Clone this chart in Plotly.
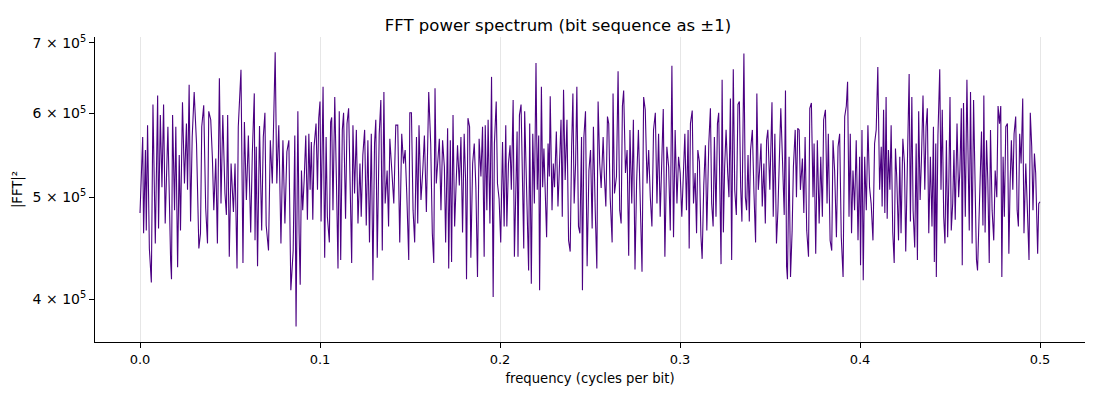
import plotly.graph_objects as go

# frequency bins (cycles per bit) and |FFT|^2 in units of 1e5
freq_a = [0.0000, 0.0009, 0.0015, 0.0020, 0.0030, 0.0035, 0.0042, 0.0052, 0.0063, 0.0072,
          0.0085, 0.0098, 0.0103, 0.0113, 0.0122, 0.0131, 0.0140, 0.0155, 0.0162, 0.0170,
          0.0175, 0.0181, 0.0192, 0.0199, 0.0209, 0.0218, 0.0225, 0.0236, 0.0247, 0.0258,
          0.0264, 0.0273, 0.0281, 0.0290, 0.0301, 0.0314, 0.0327, 0.0336, 0.0343, 0.0354,
          0.0365, 0.0375, 0.0382, 0.0393, 0.0402, 0.0410, 0.0421, 0.0430, 0.0441, 0.0450,
          0.0460, 0.0472, 0.0480, 0.0487, 0.0496, 0.0506, 0.0519, 0.0528, 0.0539, 0.0546,
          0.0561, 0.0572, 0.0580, 0.0591, 0.0602, 0.0615, 0.0624, 0.0635, 0.0639, 0.0646,
          0.0653, 0.0664, 0.0676, 0.0685, 0.0694, 0.0701, 0.0714, 0.0724, 0.0735, 0.0744,
          0.0751, 0.0760, 0.0771, 0.0783, 0.0794, 0.0805, 0.0816, 0.0827, 0.0838]
power_a = [4.83, 5.27, 5.70, 4.62, 5.54, 4.65, 5.85, 4.47, 4.15, 6.12,
           4.52, 6.24, 4.67, 5.98, 5.11, 6.12, 4.72, 5.83, 4.88, 4.36,
           4.18, 5.98, 4.86, 5.83, 4.29, 5.48, 4.65, 6.15, 5.15, 5.87,
           5.08, 6.39, 4.74, 5.70, 6.29, 5.62, 4.47, 4.62, 5.83, 6.11,
           4.88, 4.52, 6.03, 5.92, 5.46, 4.86, 5.44, 4.52, 6.48, 4.93,
           5.98, 5.04, 4.81, 5.98, 4.39, 5.38, 4.84, 5.38, 4.28, 5.83,
           6.60, 4.33, 5.89, 4.97, 5.72, 4.63, 5.50, 6.27, 4.55, 5.58,
           4.30, 5.84, 4.65, 5.70, 6.01, 4.70, 4.45, 5.66, 5.15, 6.05,
           6.86, 5.15, 5.85, 4.52, 5.66, 4.72, 5.52, 5.66, 4.08]

freq_b = [0.0851, 0.0860, 0.0867, 0.0877, 0.0884, 0.0890, 0.0897, 0.0904, 0.0912, 0.0921,
          0.0930, 0.0938, 0.0945, 0.0952, 0.0960, 0.0967, 0.0978, 0.0986, 0.0993, 0.1000,
          0.1006, 0.1017, 0.1026, 0.1034, 0.1041, 0.1052, 0.1059, 0.1065, 0.1072, 0.1082,
          0.1091, 0.1100, 0.1107, 0.1115, 0.1124, 0.1131, 0.1142, 0.1150, 0.1159, 0.1168,
          0.1176, 0.1183, 0.1192, 0.1202, 0.1211, 0.1222, 0.1229, 0.1238, 0.1248, 0.1257,
          0.1266, 0.1275, 0.1285, 0.1294, 0.1303, 0.1310, 0.1318, 0.1329, 0.1338, 0.1346,
          0.1355, 0.1362, 0.1373, 0.1381, 0.1388, 0.1399, 0.1410, 0.1421, 0.1432, 0.1443,
          0.1454, 0.1464, 0.1473, 0.1482, 0.1493, 0.1499, 0.1508, 0.1517, 0.1526, 0.1536,
          0.1543, 0.1550, 0.1561, 0.1571, 0.1580, 0.1591, 0.1598, 0.1604, 0.1615, 0.1624,
          0.1632, 0.1639, 0.1646, 0.1654, 0.1663, 0.1672, 0.1681, 0.1691, 0.1698, 0.1709,
          0.1715, 0.1724, 0.1731, 0.1739, 0.1748, 0.1757, 0.1764, 0.1774, 0.1783, 0.1792,
          0.1801, 0.1809, 0.1814, 0.1822, 0.1831, 0.1838, 0.1848, 0.1857, 0.1866, 0.1875,
          0.1884]
power_b = [4.45, 5.72, 3.77, 6.03, 4.62, 4.13, 5.30, 4.86, 5.19, 5.72,
           4.76, 5.74, 5.08, 5.64, 4.76, 5.58, 5.87, 5.08, 5.94, 6.16,
           4.74, 6.36, 4.38, 5.70, 4.79, 4.53, 5.89, 5.95, 4.86, 6.22,
           5.21, 4.28, 6.03, 4.36, 5.79, 6.01, 4.77, 5.87, 6.07, 4.83,
           4.33, 5.85, 5.04, 5.79, 4.72, 5.38, 4.79, 5.48, 5.79, 4.70,
           5.66, 4.53, 5.74, 4.17, 5.62, 5.92, 4.38, 5.74, 6.18, 4.45,
           6.29, 4.93, 5.30, 4.69, 5.68, 5.30, 4.93, 5.85, 5.85, 4.53,
           5.74, 5.38, 5.54, 5.04, 4.36, 6.01, 6.01, 4.86, 4.53, 5.70,
           4.72, 5.85, 4.97, 5.30, 5.72, 4.84, 5.64, 6.29, 5.62, 4.62,
           4.33, 6.34, 5.15, 5.46, 5.68, 4.86, 5.66, 5.34, 4.53, 5.81,
           4.28, 5.66, 4.34, 5.98, 4.69, 5.19, 5.60, 5.13, 5.70, 4.63,
           5.74, 5.17, 4.18, 5.94, 5.83, 4.38, 5.38, 5.62, 5.11, 4.20,
           5.68]

freq_c = [0.1894, 0.1903, 0.1912, 0.1918, 0.1927, 0.1934, 0.1944, 0.1953, 0.1962, 0.1969,
          0.1979, 0.1986, 0.1995, 0.2004, 0.2014, 0.2023, 0.2032, 0.2038, 0.2047, 0.2056,
          0.2063, 0.2073, 0.2080, 0.2088, 0.2095, 0.2100, 0.2108, 0.2117, 0.2124, 0.2132,
          0.2137, 0.2148, 0.2159, 0.2165, 0.2174, 0.2182, 0.2191, 0.2200, 0.2207, 0.2215,
          0.2220, 0.2230, 0.2237, 0.2244, 0.2252, 0.2259, 0.2267, 0.2274, 0.2279, 0.2289,
          0.2296, 0.2303, 0.2313, 0.2322, 0.2329, 0.2339, 0.2346, 0.2353, 0.2362, 0.2372,
          0.2381, 0.2390, 0.2398, 0.2405, 0.2412, 0.2420, 0.2427, 0.2436, 0.2444, 0.2453,
          0.2458, 0.2466, 0.2475, 0.2484, 0.2494, 0.2503, 0.2512, 0.2519, 0.2529, 0.2538,
          0.2545, 0.2554, 0.2562, 0.2573, 0.2580, 0.2588, 0.2597, 0.2604, 0.2612, 0.2623,
          0.2628, 0.2636, 0.2647, 0.2656, 0.2665, 0.2673, 0.2680, 0.2687, 0.2697, 0.2706,
          0.2715, 0.2722, 0.2732, 0.2741, 0.2750, 0.2759, 0.2769, 0.2780, 0.2789, 0.2798,
          0.2807, 0.2817, 0.2826, 0.2835, 0.2844, 0.2853, 0.2863, 0.2872, 0.2881, 0.2890,
          0.2900, 0.2907, 0.2916, 0.2927, 0.2937]
power_c = [5.23, 5.83, 4.39, 5.85, 4.86, 5.92, 4.72, 6.50, 4.02, 5.62,
           6.16, 5.15, 4.98, 4.53, 5.64, 4.69, 5.85, 4.69, 5.38, 5.60,
           5.08, 6.18, 4.39, 5.34, 5.77, 4.39, 5.98, 6.12, 5.11, 4.47,
           6.03, 5.00, 4.26, 5.87, 4.14, 5.74, 4.93, 6.70, 5.08, 5.72,
           4.08, 6.36, 5.11, 5.56, 4.93, 4.58, 5.62, 5.23, 6.23, 4.86,
           5.38, 5.11, 5.77, 4.90, 5.27, 5.92, 4.79, 6.32, 5.19, 5.92,
           4.55, 4.44, 5.58, 6.27, 4.93, 5.38, 6.36, 4.69, 4.62, 5.70,
           4.08, 5.70, 6.03, 4.30, 5.30, 5.54, 4.67, 5.83, 4.86, 4.28,
           6.16, 5.38, 5.10, 5.70, 5.23, 4.90, 5.96, 5.87, 5.00, 4.53,
           6.27, 5.04, 5.23, 6.58, 4.86, 4.72, 6.10, 6.31, 5.27, 5.54,
           4.40, 5.79, 4.93, 5.92, 4.27, 5.17, 5.79, 4.83, 4.25, 6.22,
           6.05, 5.15, 5.54, 5.00, 4.69, 5.79, 6.01, 4.93, 5.74, 4.79,
           5.58, 6.06, 4.39, 5.58, 5.34]

freq_d = [0.2946, 0.2955, 0.2964, 0.2973, 0.2983, 0.2992, 0.3001, 0.3010, 0.3020, 0.3027,
          0.3036, 0.3045, 0.3051, 0.3058, 0.3068, 0.3075, 0.3084, 0.3092, 0.3099, 0.3108,
          0.3116, 0.3123, 0.3132, 0.3141, 0.3149, 0.3160, 0.3169, 0.3176, 0.3184, 0.3191,
          0.3200, 0.3208, 0.3215, 0.3222, 0.3228, 0.3234, 0.3241, 0.3248, 0.3256, 0.3265,
          0.3272, 0.3280, 0.3287, 0.3296, 0.3304, 0.3313, 0.3322, 0.3330, 0.3337, 0.3344,
          0.3355, 0.3363, 0.3370, 0.3378, 0.3385, 0.3392, 0.3402, 0.3411, 0.3420, 0.3427,
          0.3435, 0.3442, 0.3450, 0.3457, 0.3466, 0.3474, 0.3481, 0.3488, 0.3499, 0.3511,
          0.3518, 0.3527, 0.3536, 0.3544, 0.3551, 0.3560, 0.3570, 0.3579, 0.3586, 0.3592,
          0.3597, 0.3606, 0.3614, 0.3623, 0.3630, 0.3640, 0.3647, 0.3654, 0.3662, 0.3669,
          0.3680, 0.3688, 0.3695, 0.3704, 0.3714, 0.3721, 0.3730, 0.3739, 0.3745, 0.3754,
          0.3763, 0.3773, 0.3782, 0.3791, 0.3798, 0.3808, 0.3817, 0.3824, 0.3834, 0.3843,
          0.3850, 0.3859, 0.3869, 0.3878, 0.3887, 0.3896, 0.3906, 0.3915, 0.3924, 0.3931,
          0.3939, 0.3946, 0.3953, 0.3961, 0.3970, 0.3979, 0.3989]
power_d = [4.65, 6.66, 4.58, 5.79, 4.93, 5.46, 5.27, 4.79, 5.50, 5.74,
           4.86, 5.79, 4.47, 5.87, 6.04, 4.93, 5.27, 4.62, 5.54, 5.40,
           4.60, 4.37, 5.13, 5.60, 4.65, 5.62, 6.07, 4.93, 4.69, 5.70,
           4.79, 5.87, 6.01, 5.08, 4.32, 6.46, 4.63, 5.34, 5.79, 5.27,
           5.00, 6.20, 4.36, 6.61, 5.08, 4.81, 6.12, 6.16, 5.11, 4.74,
           6.84, 5.00, 4.86, 5.48, 4.74, 5.54, 5.79, 5.04, 4.53, 6.27,
           5.08, 5.30, 5.62, 4.90, 5.38, 4.72, 5.66, 5.79, 5.08, 6.15,
           4.79, 5.74, 4.52, 4.86, 5.46, 6.07, 5.38, 4.81, 6.31, 4.30,
           4.18, 5.46, 4.20, 4.65, 5.34, 5.79, 5.00, 5.81, 5.79, 5.08,
           5.44, 4.83, 5.70, 4.65, 4.39, 6.07, 6.14, 5.00, 5.62, 4.42,
           5.66, 4.72, 5.46, 4.79, 5.92, 6.05, 4.93, 5.74, 4.55, 4.45,
           5.66, 5.30, 4.58, 5.58, 5.74, 4.58, 4.20, 5.96, 6.10, 6.43,
           4.79, 5.74, 4.62, 5.30, 4.86, 5.66, 4.55]

freq_e = [0.3998, 0.4003, 0.4011, 0.4018, 0.4026, 0.4035, 0.4044, 0.4053, 0.4062, 0.4072,
          0.4081, 0.4090, 0.4099, 0.4109, 0.4118, 0.4123, 0.4131, 0.4138, 0.4145, 0.4151,
          0.4158, 0.4166, 0.4173, 0.4182, 0.4190, 0.4197, 0.4204, 0.4214, 0.4221, 0.4228,
          0.4238, 0.4247, 0.4254, 0.4264, 0.4273, 0.4280, 0.4288, 0.4295, 0.4304, 0.4312,
          0.4319, 0.4326, 0.4334, 0.4341, 0.4350, 0.4360, 0.4367, 0.4374, 0.4382, 0.4391,
          0.4400, 0.4408, 0.4413, 0.4421, 0.4424, 0.4433, 0.4443, 0.4450, 0.4457, 0.4465,
          0.4472, 0.4480, 0.4487, 0.4494, 0.4500, 0.4507, 0.4515, 0.4522, 0.4529, 0.4539,
          0.4548, 0.4555, 0.4563, 0.4568, 0.4575, 0.4585, 0.4594, 0.4601, 0.4607, 0.4614,
          0.4623, 0.4631, 0.4640, 0.4647, 0.4653, 0.4660, 0.4668, 0.4675, 0.4683, 0.4688,
          0.4695, 0.4703, 0.4710, 0.4718, 0.4725, 0.4734, 0.4743, 0.4751, 0.4760, 0.4767,
          0.4775, 0.4782, 0.4788, 0.4795, 0.4802, 0.4810, 0.4819, 0.4827, 0.4834, 0.4841,
          0.4849, 0.4856, 0.4865, 0.4873, 0.4880, 0.4887, 0.4895, 0.4904, 0.4911, 0.4921,
          0.4930, 0.4939, 0.4946, 0.4954, 0.4961, 0.4969, 0.4976, 0.4982, 0.4987, 0.4993,
          0.5000]
power_e = [5.46, 4.31, 5.79, 4.17, 5.46, 4.86, 5.85, 5.11, 4.93, 4.55,
           5.62, 5.79, 6.64, 5.08, 5.58, 4.90, 6.05, 4.83, 6.22, 4.77,
           5.54, 5.08, 5.85, 4.63, 4.33, 5.56, 5.23, 4.55, 5.46, 4.62,
           5.68, 5.38, 4.44, 5.46, 6.54, 4.74, 6.22, 4.86, 4.48, 5.62,
           4.36, 6.03, 4.97, 5.40, 6.24, 5.08, 5.83, 6.07, 4.62, 5.46,
           4.69, 5.83, 4.34, 5.62, 4.20, 5.72, 6.61, 5.08, 6.05, 4.79,
           4.52, 5.66, 4.58, 5.23, 6.22, 4.65, 4.93, 5.54, 4.76, 5.87,
           5.00, 5.30, 6.07, 4.31, 6.14, 4.79, 6.46, 5.38, 4.65, 6.29,
           4.52, 6.18, 5.00, 4.36, 4.26, 4.79, 5.38, 5.77, 4.70, 6.24,
           4.63, 5.66, 5.19, 4.33, 5.79, 4.86, 4.55, 5.30, 5.00, 6.10,
           5.87, 6.10, 4.20, 5.46, 4.79, 5.83, 5.87, 4.42, 5.15, 5.66,
           5.08, 5.74, 5.96, 4.86, 4.69, 5.74, 5.38, 6.20, 4.62, 5.38,
           4.86, 4.36, 6.01, 5.58, 4.86, 5.50, 5.27, 4.58, 4.42, 4.93,
           4.95]

y_ticks = [4e5, 5e5, 6e5, 7e5]
y_tick_text = ["4 × 10<sup>5</sup>", "5 × 10<sup>5</sup>", "6 × 10<sup>5</sup>", "7 × 10<sup>5</sup>"]
x_ticks = [0.0, 0.1, 0.2, 0.3, 0.4, 0.5]
x_tick_text = ["0.0", "0.1", "0.2", "0.3", "0.4", "0.5"]

freq = freq_a + freq_b + freq_c + freq_d + freq_e
power = [p * 1e5 for p in power_a + power_b + power_c + power_d + power_e]
assert len(freq) == len(power), (len(freq), len(power))

fig = go.Figure()
fig.add_trace(go.Scatter(
    x=freq, y=power, mode="lines",
    line=dict(color="#4B0082", width=1.1),
    showlegend=False,
))

# page body adds an 8px offset, margins are set so the axes land where the reference has them
fig.update_layout(
    width=1100, height=400,
    margin=dict(l=87, r=23, t=29, b=66),
    paper_bgcolor="white", plot_bgcolor="white",
    font=dict(family="DejaVu Sans", size=13, color="black"),
    title=dict(text="FFT power spectrum (bit sequence as ±1)",
               x=0.5, xanchor="center", y=0.9575, yanchor="middle",
               font=dict(size=16.5, color="black")),
)
fig.update_xaxes(
    range=[-0.025, 0.525],
    tickvals=x_ticks, ticktext=x_tick_text, tickfont=dict(size=13),
    showgrid=True, gridcolor="#e6e6e6", gridwidth=1,
    zeroline=False, showline=True, linecolor="black", linewidth=1,
    ticks="outside", ticklen=5, tickcolor="black",
    title=dict(text="frequency (cycles per bit)", font=dict(size=13.2), standoff=8),
    automargin=False,
)
fig.update_yaxes(
    type="log", range=[5.5617, 5.8507],
    tickvals=y_ticks, ticktext=y_tick_text, tickfont=dict(size=14),
    showgrid=False, zeroline=False, showline=True, linecolor="black", linewidth=1,
    ticks="outside", ticklen=5, tickcolor="black",
    title=dict(text="|FFT|²", font=dict(size=13.2), standoff=6),
    automargin=False,
)

fig.write_html("out.html")
